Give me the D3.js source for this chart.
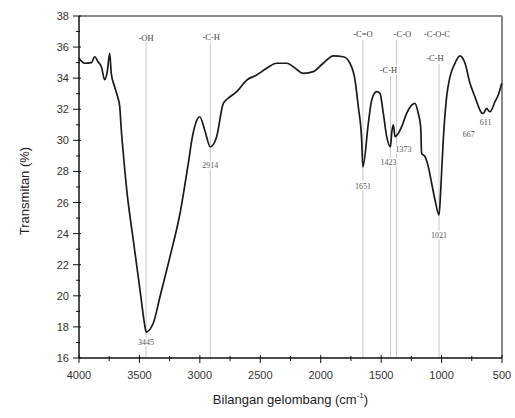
<!DOCTYPE html>
<html><head><meta charset="utf-8">
<script src="https://cdn.jsdelivr.net/npm/d3@7/dist/d3.min.js"></script>
<style>body{margin:0;background:#fff}svg{display:block}</style>
</head><body>
<svg id="c" width="515" height="418"></svg>
<script>
// ---- data ----
const wavenumbers = [4000,3953,3898,3870,3843,3815,3787,3766,3746,3733,3705,3677,3663,3650,3636,3605,3551,3495,3454,3445,3385,3330,3247,3164,3098,3060,3030,3001,2960,2914,2861,2806,2765,2695,2612,2530,2447,2364,2281,2227,2144,2061,1979,1896,1813,1758,1716,1689,1661,1651,1606,1578,1537,1510,1482,1454,1423,1413,1399,1385,1373,1358,1330,1289,1247,1220,1193,1173,1165,1137,1110,1082,1054,1021,1007,986,958,930,889,848,806,765,724,682,667,655,627,611,599,558,531,502];
const transmittance = [35.28,34.96,35.0,35.38,35.06,34.74,33.9,34.42,35.6,34.31,33.45,32.71,32.17,30.67,29.38,26.81,23.59,20.37,18.01,17.67,18.25,19.94,22.52,25.31,28.4,30.3,31.2,31.52,30.67,29.59,30.24,32.38,32.71,33.13,33.88,34.20,34.64,34.96,34.96,34.74,34.31,34.42,34.96,35.43,35.38,34.96,33.88,32.17,30.02,28.3,31.10,32.6,33.13,33.03,31.74,30.24,29.59,30.45,30.99,30.24,30.3,30.45,30.88,31.74,32.27,32.38,31.74,30.88,29.17,28.95,28.31,27.24,26.16,25.2,26.81,30.02,32.81,34.1,34.96,35.43,34.96,33.67,32.81,31.95,31.75,31.74,32.06,31.9,31.84,32.49,32.92,33.67];

const peakWavenumbers = [3445,2914,1651,1423,1373,1021,667,611];
const peakLabels = ["3445","2914","1651","1423","1373","1021","667","611"];
const groupWavenumbers = [3445,2914,1651,1423,1373,1021,1021];
const groupLabels = ["-OH","-C-H","-C=O","-C-H","-C-O","-C-O-C","-C-H"];

const xTicks = [4000,3500,3000,2500,2000,1500,1000,500];
const yTicks = [16,18,20,22,24,26,28,30,32,34,36,38];

// ---- layout ----
const L = 79, R = 502, T = 16, B = 358;
const svg = d3.select("#c");
const x = d3.scaleLinear().domain([4000,500]).range([L,R]);
const y = d3.scaleLinear().domain([16,38]).range([B,T]);

// frame (top & right)
svg.append("line").attr("x1",L).attr("x2",R).attr("y1",T).attr("y2",T).attr("stroke","#8a8a8a").attr("stroke-width",2);
svg.append("line").attr("x1",R).attr("x2",R).attr("y1",T).attr("y2",B).attr("stroke","#8a8a8a").attr("stroke-width",2);

// reference lines
const peakLine = [true,true,true,true,true,true,false,false];
const lineTop = [42,42,40,76,40,64];
const gLineIdx = peakWavenumbers.map((w,i)=>i).filter(i=>peakLine[i]);
gLineIdx.forEach((i,k)=>{
  svg.append("line").attr("x1",x(peakWavenumbers[i])).attr("x2",x(peakWavenumbers[i]))
    .attr("y1",lineTop[k]).attr("y2",B).attr("stroke","#c8c8c8").attr("stroke-width",1);
});

// curve
const pts = wavenumbers.map((w,i)=>[w,transmittance[i]]);
svg.append("path").datum(pts)
  .attr("d",d3.line().x(d=>x(d[0])).y(d=>y(d[1])).curve(d3.curveMonotoneX))
  .attr("fill","none").attr("stroke","#1a1a1a").attr("stroke-width",1.7).attr("stroke-linejoin","round");

// peak number labels
const peakDx = [0,0,0,-2,7,0,-13,-3];
const peakDy = [13,21,22,18,16,23,24,14];
const curveAt = w => { let best=0,bd=1e9; wavenumbers.forEach((v,i)=>{const d=Math.abs(v-w); if(d<bd){bd=d;best=i;}}); return transmittance[best]; };
peakWavenumbers.forEach((w,i)=>{
  svg.append("text").attr("x",x(w)+peakDx[i]).attr("y",y(curveAt(w))+peakDy[i])
    .attr("text-anchor","middle").attr("font-family","Liberation Serif, serif").attr("font-size",8)
    .attr("fill","#555").attr("stroke","#fff").attr("stroke-width",3).attr("paint-order","stroke")
    .text(peakLabels[i]);
});

// group labels
const gDx = [0,1,0,-2,6,-2,-4];
const gY = [41,40,37,73,37,37,61];
groupWavenumbers.forEach((w,i)=>{
  svg.append("text").attr("x",x(w)+gDx[i]).attr("y",gY[i])
    .attr("text-anchor","middle").attr("font-family","Liberation Serif, serif").attr("font-size",8.5)
    .attr("fill","#444").attr("stroke","#fff").attr("stroke-width",2.5).attr("paint-order","stroke")
    .text(groupLabels[i]);
});

// axes
const xAxisG = svg.append("g").attr("transform",`translate(0,${B})`);
xAxisG.append("line").attr("x1",L).attr("x2",R).attr("stroke","#111").attr("stroke-width",1.5);
d3.range(4000,499,-250).forEach(v=>{
  const major = v%500===0;
  xAxisG.append("line").attr("x1",x(v)).attr("x2",x(v)).attr("y1",major?-3:-2).attr("y2",major?5:3).attr("stroke","#111").attr("stroke-width",1);
});
xTicks.forEach(v=>{
  xAxisG.append("text").attr("x",x(v)).attr("y",21).attr("text-anchor","middle")
    .attr("font-family","Liberation Sans, Arial, sans-serif").attr("font-size",11).attr("fill","#333").text(v);
});
const yAxisG = svg.append("g").attr("transform",`translate(${L},0)`);
yAxisG.append("line").attr("y1",T).attr("y2",B).attr("stroke","#111").attr("stroke-width",1.5);
d3.range(16,38.01,1).forEach(v=>{
  const major = v%2===0;
  yAxisG.append("line").attr("y1",y(v)).attr("y2",y(v)).attr("x1",major?-6:-3).attr("x2",major?2:1).attr("stroke","#111").attr("stroke-width",1);
});
yTicks.forEach(v=>{
  yAxisG.append("text").attr("x",-10).attr("y",y(v)+4).attr("text-anchor","end")
    .attr("font-family","Liberation Sans, Arial, sans-serif").attr("font-size",11).attr("fill","#333").text(v);
});

// axis titles
const xt = svg.append("text").attr("x",(L+R)/2).attr("y",404).attr("text-anchor","middle")
  .attr("font-family","Liberation Sans, Arial, sans-serif").attr("font-size",13).attr("fill","#222");
xt.append("tspan").text("Bilangan gelombang (cm");
xt.append("tspan").attr("font-size",8).attr("dy",-6).text("-1");
xt.append("tspan").attr("dy",6).text(")");
svg.append("text").attr("transform",`translate(29,${(T+B)/2+4}) rotate(-90)`).attr("text-anchor","middle")
  .attr("font-family","Liberation Sans, Arial, sans-serif").attr("font-size",13).attr("fill","#222")
  .text("Transmitan (%)");
</script>
</body></html>
